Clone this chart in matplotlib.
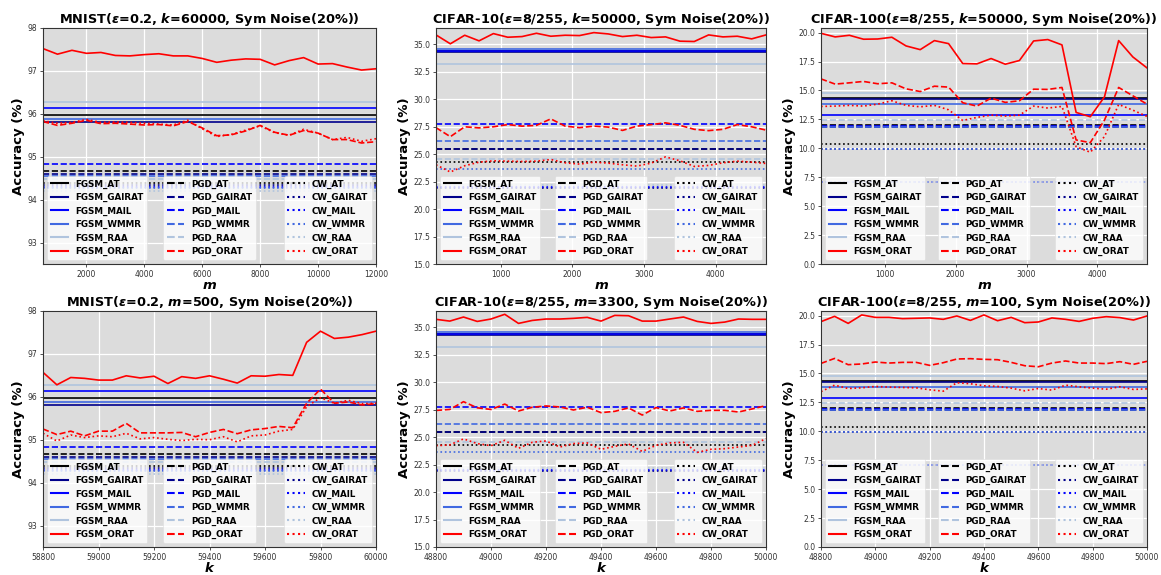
import matplotlib
matplotlib.use("Agg")
import matplotlib.pyplot as plt
from matplotlib.lines import Line2D

# ---------------- data ----------------
methods = ["AT", "GAIRAT", "MAIL", "WMMR", "RAA", "ORAT"]
attacks = ["FGSM", "PGD", "CW"]
colors = ["black", "#00008B", "#0000FF", "#4169E1", "#B0C4DE", "#FF0000"]
styles = ["-", "--", ":"]

# x values
m_mnist = [500, 1000, 1500, 2000, 2500, 3000, 3500, 4000, 4500, 5000, 5500, 6000,
           6500, 7000, 7500, 8000, 8500, 9000, 9500, 10000, 10500, 11000, 11500, 12000]
m_cifar = [100, 300, 500, 700, 900, 1100, 1300, 1500, 1700, 1900, 2100, 2300,
           2500, 2700, 2900, 3100, 3300, 3500, 3700, 3900, 4100, 4300, 4500, 4700]
k_mnist = [58800, 58850, 58900, 58950, 59000, 59050, 59100, 59150, 59200, 59250,
           59300, 59350, 59400, 59450, 59500, 59550, 59600, 59650, 59700, 59750,
           59800, 59850, 59900, 59950, 60000]
k_cifar = [48800, 48850, 48900, 48950, 49000, 49050, 49100, 49150, 49200, 49250,
           49300, 49350, 49400, 49450, 49500, 49550, 49600, 49650, 49700, 49750,
           49800, 49850, 49900, 49950, 50000]

# baselines: order AT, GAIRAT, MAIL, WMMR, RAA
mnist_fgsm = [95.98, 95.82, 96.14, 95.89, 96.28]
mnist_pgd = [94.67, 94.59, 94.82, 94.55, 94.49]
mnist_cw = [94.38, 94.33, 94.30, 94.26, 94.20]
c10_fgsm = [34.36, 34.30, 34.45, 34.60, 33.22]
c10_pgd = [25.52, 25.45, 27.73, 26.22, 24.55]
c10_cw = [24.32, 21.92, 22.02, 23.70, 22.20]
c100_fgsm = [14.36, 14.26, 12.87, 13.79, 14.76]
c100_pgd = [12.05, 11.88, 11.96, 11.84, 12.46]
c100_cw = [10.36, 9.98, 7.06, 9.90, 7.12]

# ORAT curves
mnist_m_fgsm = [97.52, 97.39, 97.48, 97.41, 97.43, 97.36, 97.35, 97.38, 97.40, 97.35, 97.35, 97.29,
                97.20, 97.25, 97.28, 97.27, 97.14, 97.24, 97.31, 97.16, 97.17, 97.09, 97.02, 97.05]
mnist_m_pgd = [95.82, 95.73, 95.78, 95.85, 95.77, 95.78, 95.76, 95.74, 95.75, 95.72, 95.82, 95.67,
               95.49, 95.51, 95.60, 95.73, 95.57, 95.50, 95.61, 95.55, 95.40, 95.40, 95.32, 95.35]
mnist_m_cw = [95.84, 95.78, 95.80, 95.87, 95.80, 95.81, 95.80, 95.78, 95.76, 95.74, 95.85, 95.65,
              95.47, 95.52, 95.62, 95.72, 95.56, 95.50, 95.64, 95.55, 95.40, 95.45, 95.36, 95.42]

c10_m_fgsm = [35.87, 35.06, 35.84, 35.33, 35.99, 35.66, 35.72, 36.02, 35.75, 35.84, 35.81, 36.08,
              35.96, 35.72, 35.84, 35.63, 35.69, 35.30, 35.27, 35.87, 35.69, 35.75, 35.51, 35.87]
c10_m_pgd = [27.42, 26.60, 27.50, 27.40, 27.50, 27.70, 27.56, 27.63, 28.22, 27.56, 27.42, 27.56,
             27.47, 27.17, 27.56, 27.70, 27.86, 27.63, 27.27, 27.15, 27.27, 27.70, 27.50, 27.20]
c10_m_cw = [24.04, 23.38, 23.95, 24.28, 24.40, 24.37, 24.34, 24.37, 24.52, 24.22, 24.10, 24.28,
            24.19, 24.04, 23.92, 24.19, 24.76, 24.40, 23.89, 23.98, 24.22, 24.37, 24.28, 24.16]

c100_m_fgsm = [19.94, 19.63, 19.77, 19.43, 19.45, 19.60, 18.85, 18.53, 19.31, 19.05, 17.33, 17.30,
               17.76, 17.27, 17.59, 19.28, 19.40, 18.94, 13.10, 12.73, 14.45, 19.31, 17.90, 16.95]
c100_m_pgd = [16.00, 15.55, 15.66, 15.78, 15.58, 15.66, 15.14, 14.91, 15.37, 15.29, 13.94, 13.65,
              14.34, 13.97, 14.11, 15.11, 15.09, 15.26, 10.72, 10.49, 12.44, 15.26, 14.54, 13.82]
c100_m_cw = [13.62, 13.65, 13.71, 13.65, 13.82, 14.11, 13.71, 13.59, 13.71, 13.33, 12.41, 12.67,
             12.87, 12.79, 12.87, 13.65, 13.48, 13.62, 10.14, 9.66, 11.01, 13.79, 13.30, 12.76]

mnist_k_fgsm = [96.57, 96.28, 96.45, 96.43, 96.39, 96.39, 96.49, 96.44, 96.48, 96.31, 96.47, 96.43,
                96.49, 96.41, 96.32, 96.49, 96.48, 96.52, 96.50, 97.27, 97.53, 97.36, 97.39, 97.45, 97.53]
mnist_k_pgd = [95.25, 95.12, 95.20, 95.09, 95.20, 95.20, 95.38, 95.16, 95.16, 95.16, 95.17, 95.07,
               95.17, 95.24, 95.14, 95.23, 95.26, 95.31, 95.28, 95.85, 96.18, 95.85, 95.88, 95.81, 95.84]
mnist_k_cw = [95.15, 94.97, 95.11, 95.05, 95.09, 95.07, 95.15, 95.02, 95.05, 95.01, 94.98, 95.01,
              95.00, 95.07, 94.95, 95.09, 95.11, 95.20, 95.24, 95.77, 95.98, 95.85, 95.92, 95.84, 95.85]

c10_k_fgsm = [35.74, 35.58, 35.95, 35.55, 35.77, 36.20, 35.37, 35.64, 35.77, 35.77, 35.83, 35.92,
              35.58, 36.10, 36.07, 35.58, 35.58, 35.77, 35.95, 35.55, 35.37, 35.49, 35.77, 35.74, 35.74]
c10_k_pgd = [27.44, 27.53, 28.24, 27.68, 27.53, 28.02, 27.39, 27.73, 27.85, 27.76, 27.48, 27.73,
             27.24, 27.36, 27.67, 27.02, 27.70, 27.39, 27.67, 27.36, 27.45, 27.45, 27.30, 27.58, 27.88]
c10_k_cw = [24.23, 24.30, 24.85, 24.42, 24.23, 24.72, 23.99, 24.54, 24.66, 24.11, 24.42, 24.48,
            23.90, 24.17, 24.39, 23.71, 24.26, 24.48, 24.54, 23.62, 23.90, 23.96, 24.11, 24.26, 24.88]

c100_k_fgsm = [19.48, 19.94, 19.33, 20.06, 19.85, 19.85, 19.74, 19.77, 19.80, 19.68, 19.97, 19.59,
               20.06, 19.56, 19.85, 19.39, 19.45, 19.80, 19.68, 19.50, 19.77, 19.91, 19.83, 19.62, 19.97]
c100_k_pgd = [15.87, 16.30, 15.76, 15.82, 15.99, 15.90, 15.96, 15.96, 15.70, 15.93, 16.25, 16.28,
              16.22, 16.19, 15.96, 15.67, 15.58, 15.90, 16.08, 15.90, 15.90, 15.85, 16.02, 15.79, 16.05]
c100_k_cw = [13.43, 13.99, 13.70, 13.76, 13.88, 13.82, 13.79, 13.76, 13.59, 13.47, 14.20, 14.11,
             13.94, 13.88, 13.73, 13.50, 13.70, 13.56, 13.99, 13.85, 13.73, 13.64, 13.85, 13.62, 13.67]

titles = [
    r"MNIST($\mathbfit{\varepsilon}$=0.2, $\mathbfit{k}$=60000, Sym Noise(20%))",
    r"CIFAR-10($\mathbfit{\varepsilon}$=8/255, $\mathbfit{k}$=50000, Sym Noise(20%))",
    r"CIFAR-100($\mathbfit{\varepsilon}$=8/255, $\mathbfit{k}$=50000, Sym Noise(20%))",
    r"MNIST($\mathbfit{\varepsilon}$=0.2, $\mathbfit{m}$=500, Sym Noise(20%))",
    r"CIFAR-10($\mathbfit{\varepsilon}$=8/255, $\mathbfit{m}$=3300, Sym Noise(20%))",
    r"CIFAR-100($\mathbfit{\varepsilon}$=8/255, $\mathbfit{m}$=100, Sym Noise(20%))",
]

# ---------------- plotting ----------------
W, H = 1161, 575
fig = plt.figure(figsize=(W / 100, H / 100), dpi=100)

col_left = [43, 436, 821]
col_w = [333, 330, 326]
row_top = [28, 311]
row_h = 236

panels = [
    (m_mnist, (mnist_fgsm, mnist_pgd, mnist_cw), (mnist_m_fgsm, mnist_m_pgd, mnist_m_cw),
     (500, 12000), (92.5, 98), [2000, 4000, 6000, 8000, 10000, 12000], [93, 94, 95, 96, 97, 98], "%d", "m"),
    (m_cifar, (c10_fgsm, c10_pgd, c10_cw), (c10_m_fgsm, c10_m_pgd, c10_m_cw),
     (100, 4700), (15, 36.5), [1000, 2000, 3000, 4000], [15, 17.5, 20, 22.5, 25, 27.5, 30, 32.5, 35], "%.1f", "m"),
    (m_cifar, (c100_fgsm, c100_pgd, c100_cw), (c100_m_fgsm, c100_m_pgd, c100_m_cw),
     (100, 4700), (0, 20.4), [1000, 2000, 3000, 4000], [0, 2.5, 5, 7.5, 10, 12.5, 15, 17.5, 20], "%.1f", "m"),
    (k_mnist, (mnist_fgsm, mnist_pgd, mnist_cw), (mnist_k_fgsm, mnist_k_pgd, mnist_k_cw),
     (58800, 60000), (92.5, 98), [58800, 59000, 59200, 59400, 59600, 59800, 60000], [93, 94, 95, 96, 97, 98], "%d", "k"),
    (k_cifar, (c10_fgsm, c10_pgd, c10_cw), (c10_k_fgsm, c10_k_pgd, c10_k_cw),
     (48800, 50000), (15, 36.5), [48800, 49000, 49200, 49400, 49600, 49800, 50000], [15, 17.5, 20, 22.5, 25, 27.5, 30, 32.5, 35], "%.1f", "k"),
    (k_cifar, (c100_fgsm, c100_pgd, c100_cw), (c100_k_fgsm, c100_k_pgd, c100_k_cw),
     (48800, 50000), (0, 20.4), [48800, 49000, 49200, 49400, 49600, 49800, 50000], [0, 2.5, 5, 7.5, 10, 12.5, 15, 17.5, 20], "%.1f", "k"),
]

lw = 1.2
for idx, (xs, bases, orats, xlim, ylim, xt, yt, yfmt, xl) in enumerate(panels):
    r, c = divmod(idx, 3)
    left = col_left[c] / W
    bottom = (H - row_top[r] - row_h) / H
    ax = fig.add_axes([left, bottom, col_w[c] / W, row_h / H])
    ax.set_facecolor("#DCDCDC")
    ax.grid(True, color="white", lw=0.9)
    ax.set_axisbelow(True)
    for ai, base in enumerate(bases):
        for mi in range(5):
            ax.axhline(base[mi], color=colors[mi], ls=styles[ai], lw=lw)
    for ai, orat in enumerate(orats):
        ax.plot(xs, orat, color=colors[5], ls=styles[ai], lw=lw)
    ax.set_xlim(*xlim)
    ax.set_ylim(*ylim)
    ax.set_xticks(xt)
    ax.set_yticks(yt)
    ax.set_yticklabels([yfmt % v for v in yt])
    ax.tick_params(labelsize=5.5, length=2.5, width=0.6, colors="#333333", pad=1.5)
    for s in ax.spines.values():
        s.set_color("#333333")
        s.set_linewidth(0.8)
    ax.set_title(titles[idx], fontsize=9.3, fontweight="bold", pad=3)
    ax.set_ylabel("Accuracy (%)", fontsize=9.5, fontweight="bold", labelpad=2)
    ax.set_xlabel(xl, fontsize=9.5, fontweight="bold", fontstyle="italic", labelpad=0)

    locs = ["lower left", "lower center", "lower right"]
    for ai, att in enumerate(attacks):
        handles = [Line2D([0], [0], color=colors[mi], ls=styles[ai], lw=1.5)
                   for mi in range(6)]
        labels = [f"{att}_{m}" for m in methods]
        leg = ax.legend(handles, labels, loc=locs[ai], prop={"size": 6.3, "weight": "bold"},
                        framealpha=0.8, facecolor="white", edgecolor="#dddddd",
                        fancybox=True)
        leg.get_frame().set_linewidth(0.5)
        if ai < 2:
            ax.add_artist(leg)

fig.savefig("out.png", dpi=100)
